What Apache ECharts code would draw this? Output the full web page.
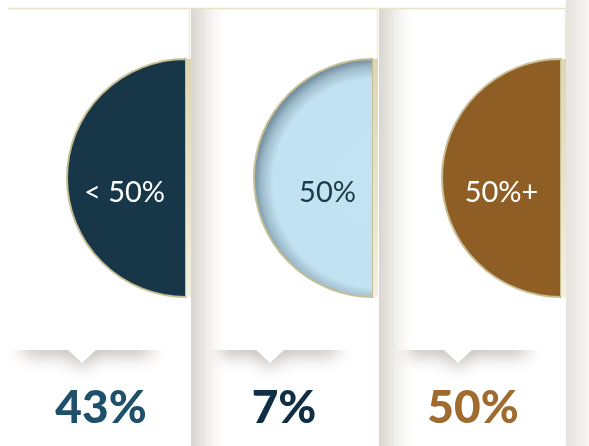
<!DOCTYPE html>
<html>
<head>
<meta charset="utf-8">
<script src="https://cdn.jsdelivr.net/npm/echarts@6/dist/echarts.min.js"></script>
<style>
  html, body { margin: 0; padding: 0; background: #ffffff; }
  #chart { width: 589px; height: 446px; }
</style>
</head>
<body>
<div id="chart"></div>
<script>
// Share groups and their share of respondents
const groups = ['< 50%', '50%', '50%+'];
const shares = [43, 7, 50];
const discColors = ['#173648', '#c2e1f1', '#8f5e24'];
const discLabelColors = ['#ffffff', '#1c394b', '#ffffff'];
const shareColors = ['#1f5069', '#112f44', '#a06b2f'];

// Panel geometry (pixels)
const discCenters = [186, 373, 561];
const discCenterY = 178;
const discRadius = 119;
const labelShift = [1, 17, 3];
const panelEdges = [[8, 190], [191, 378], [379, 566]];
const notches = [[24, 150, 82], [216, 336, 270], [404, 526, 458]];

const chart = echarts.init(document.getElementById('chart'), null, { renderer: 'canvas' });

function discFill(i) {
  if (i !== 1) return discColors[i];
  // light disc gets a soft inner rim
  return {
    type: 'radial', global: true,
    x: discCenters[i] + 5, y: discCenterY + 5, r: discRadius + 6,
    colorStops: [
      { offset: 0, color: '#c3e2f2' },
      { offset: 0.84, color: '#c2e1f1' },
      { offset: 0.93, color: '#9ebccb' },
      { offset: 1, color: '#6d8a9a' }
    ]
  };
}

const pieSeries = groups.map((g, i) => ({
  type: 'pie',
  z: 5,
  silent: true,
  center: [discCenters[i], discCenterY],
  radius: [0, discRadius],
  startAngle: 90,
  clockwise: false,
  labelLine: { show: false },
  labelLayout: { dx: labelShift[i], dy: 14.5 },
  data: [
    {
      name: g, value: 1,
      itemStyle: { color: discFill(i), borderColor: '#c8be94', borderWidth: 2 },
      label: {
        show: true, position: 'inside', formatter: '{b}',
        color: discLabelColors[i], fontFamily: 'Lato', fontWeight: 400, fontSize: 29
      }
    },
    { name: '', value: 1, itemStyle: { color: 'transparent', borderWidth: 0 }, label: { show: false } }
  ]
}));

const graphics = [];
// right margin band
graphics.push({
  type: 'rect', z: 0, shape: { x: 566, y: 0, width: 23, height: 446 },
  style: { fill: new echarts.graphic.LinearGradient(0, 0, 1, 0, [
    { offset: 0, color: '#e6e2de' }, { offset: 1, color: '#f7f5f3' }]) }
});
// notched bottom edge of each upper card, casting a soft shadow
notches.forEach(([l, r, t]) => {
  graphics.push({
    type: 'polygon', z: 1,
    shape: { points: [[l, 330], [r, 330], [r, 350], [t + 14, 350], [t, 363], [t - 14, 350], [l, 350]] },
    style: { fill: '#ffffff', shadowBlur: 18, shadowOffsetY: 5, shadowColor: 'rgba(95,80,65,0.4)' }
  });
  graphics.push({
    type: 'rect', z: 2, shape: { x: l - 24, y: 300, width: r - l + 48, height: 50 },
    style: { fill: '#ffffff' }
  });
});
// left shading of the second and third panels
[191, 379].forEach(x => {
  graphics.push({
    type: 'rect', z: 3, shape: { x: x, y: 8, width: 38, height: 438 },
    style: { fill: new echarts.graphic.LinearGradient(0, 0, 1, 0, [
      { offset: 0, color: '#dad5d0' }, { offset: 0.35, color: '#ebe8e4' },
      { offset: 1, color: 'rgba(255,255,255,0)' }]) }
  });
});
// top rule
graphics.push({
  type: 'line', z: 4, shape: { x1: 8, y1: 8.5, x2: 566, y2: 8.5 },
  style: { stroke: '#e6e2c5', lineWidth: 1.5 }
});
panelEdges.forEach(([l, r], i) => {
  // thin card edge above the disc
  graphics.push({
    type: 'line', z: 4, shape: { x1: r - 0.5, y1: 8, x2: r - 0.5, y2: 59 },
    style: { stroke: '#f0ebd6', lineWidth: 1.5 }
  });
  // cream strip along the disc's flat side
  graphics.push({
    type: 'rect', z: 6,
    shape: { x: discCenters[i], y: discCenterY - discRadius, width: 5, height: discRadius * 2 },
    style: { fill: new echarts.graphic.LinearGradient(0, 0, 0, 1, [
      { offset: 0, color: '#dcd6b3' }, { offset: 0.6, color: '#e9e5cc' },
      { offset: 1, color: '#f2efdf' }]) }
  });
});

const option = {
  animation: false,
  backgroundColor: '#ffffff',
  graphic: graphics,
  grid: { left: 8, right: 23, top: 392, height: 33 },
  xAxis: { type: 'category', data: groups, show: false },
  yAxis: { type: 'category', data: ['share'], show: false },
  series: pieSeries.concat([{
    type: 'scatter',
    z: 5,
    silent: true,
    symbolSize: 1,
    itemStyle: { color: 'transparent', opacity: 1 },
    data: groups.map((g, i) => ({
      value: [g, 'share', shares[i]],
      label: { color: shareColors[i], offset: [i === 1 ? -3 : 0, 0] }
    })),
    label: {
      show: true, position: 'inside', opacity: 1,
      formatter: p => p.value[2] + '%',
      fontFamily: 'Lato', fontWeight: 900, fontSize: 46
    }
  }])
};

chart.setOption(option);
</script>
</body>
</html>
